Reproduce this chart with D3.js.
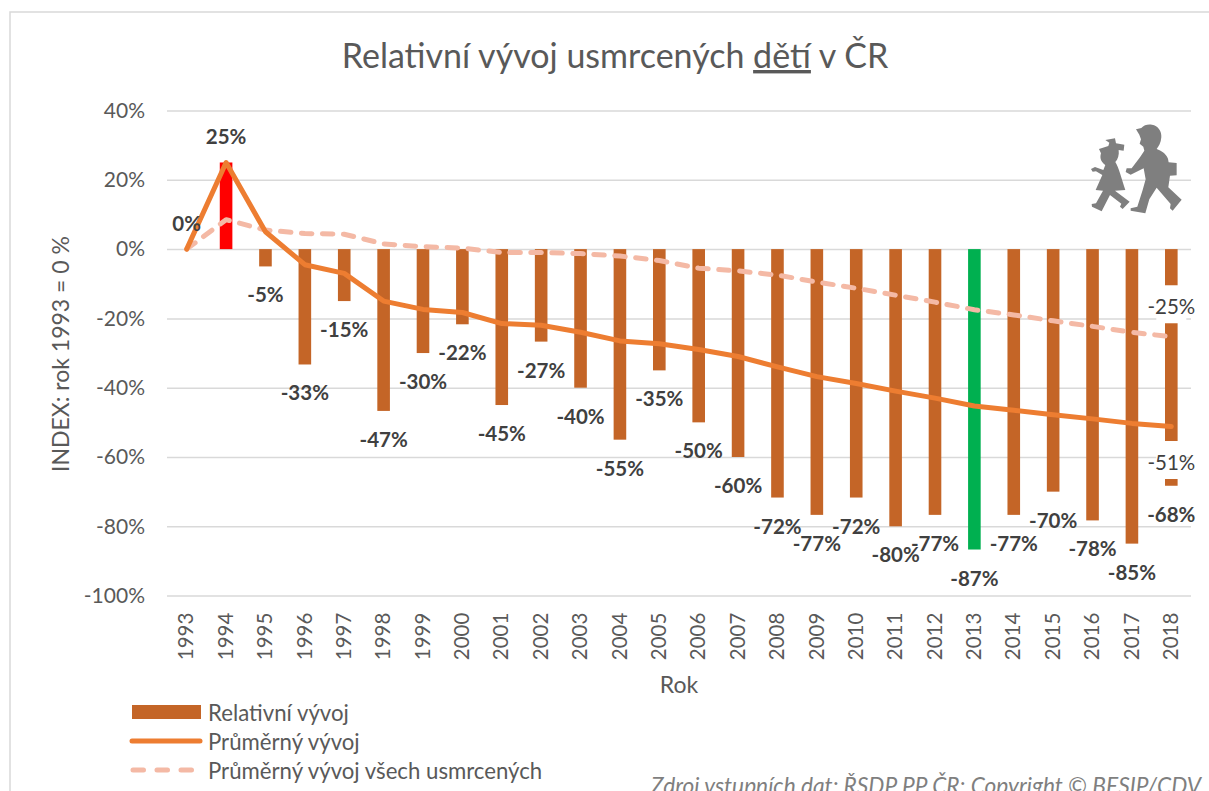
<!DOCTYPE html>
<html><head><meta charset="utf-8">
<script src="https://cdn.jsdelivr.net/npm/d3@7/dist/d3.min.js"></script>
<style>
html,body{margin:0;padding:0;background:#fff;overflow:hidden}
svg{display:block}
text{font-family:Lato,"Noto Sans",sans-serif}
</style></head><body>
<svg id="c" width="1209" height="791"></svg>
<script>
const years = d3.range(1993, 2019).map(String);
const relative = [null,25,-5,-33.3,-15,-46.7,-30,-21.7,-45,-26.7,-40,-55,-35,-50,-60,-71.7,-76.7,-71.7,-80,-76.7,-86.7,-76.7,-70,-78.3,-85,-68.3];
const average = [0,25,5,-4.5,-7,-15,-17.4,-18.3,-21.5,-22,-24,-26.5,-27.3,-29,-31,-34,-36.8,-38.8,-41,-43,-45.3,-46.5,-47.8,-49,-50.3,-51.2];
const averageAll = [0,8.5,5.5,4.5,4.3,1.5,0.7,0.3,-1,-1,-1.3,-2,-3.3,-5.5,-6.3,-7.5,-9.5,-11.3,-13.3,-15.3,-17.5,-19,-20.7,-22.3,-24,-25.3];
const yTicks = [40,20,0,-20,-40,-60,-80,-100];
const legendItems = ["Relativní vývoj","Průměrný vývoj","Průměrný vývoj všech usmrcených"];
const BROWN="#C46527", ORANGE="#ED7D31", PEACH="#F4B9A5", GRID="#D9D9D9", TXT="#595959", LBL="#404040";

const svg = d3.select("#c");
const x = d3.scaleBand().domain(years).range([167,1191]);
const y = d3.scaleLinear().domain([-100,40]).range([595.6,110.5]);
const cx = d => x(d)+x.bandwidth()/2;
const pct = v => d3.format(".0f")(v).replace("\u2212","-")+"%";

// frame
svg.append("rect").attr("x",10).attr("y",12).attr("width",1300).attr("height",900)
  .attr("fill","#fff").attr("stroke",GRID).attr("stroke-width",1.5);

// title
const t = svg.append("text").attr("x",615).attr("y",68).attr("text-anchor","middle")
  .attr("font-size",34).attr("fill",TXT);
t.append("tspan").text("Relativní vývoj usmrcených ");
t.append("tspan").attr("text-decoration","underline").text("dětí");
t.append("tspan").text(" v ČR");

// y axis
const gy = svg.append("g").attr("transform","translate(167,0)")
  .call(d3.axisLeft(y).tickValues(yTicks).tickFormat(d=>d+"%").tickSize(-1024).tickPadding(22));
gy.select(".domain").remove();
gy.selectAll("line").attr("stroke",GRID).attr("stroke-width",1.5);
gy.selectAll("text").attr("font-size",21).attr("fill",TXT).style("font-family","Lato");

// x axis
const gx = svg.append("g").attr("transform","translate(0,595.6)")
  .call(d3.axisBottom(x).tickSize(0));
gx.select(".domain").remove();
gx.selectAll("text").attr("font-size",20.5).attr("fill",TXT).style("font-family","Lato")
  .attr("text-anchor","end").attr("dy",0).attr("dominant-baseline","middle")
  .attr("transform",d=>`translate(1.5,17) rotate(-90)`).attr("y",0).attr("x",0);

// axis titles
svg.append("text").attr("x",679).attr("y",693).attr("text-anchor","middle").attr("font-size",23).attr("fill",TXT).text("Rok");
svg.append("text").attr("transform","translate(69,354) rotate(-90)").attr("text-anchor","middle").attr("font-size",23).attr("fill",TXT).text("INDEX: rok 1993 = 0 %");

// bars
const barW = 12.6;
const rows = years.map((yr,i)=>({yr,v:relative[i]}));
svg.append("g").selectAll("rect").data(rows.filter(d=>d.v!==null)).join("rect")
  .attr("x",d=>cx(d.yr)-barW/2).attr("width",barW)
  .attr("y",d=>Math.min(y(d.v),y(0))).attr("height",d=>Math.abs(y(d.v)-y(0)))
  .attr("fill",d=>d.yr==="1994"?"#FF0000":d.yr==="2013"?"#00B050":BROWN);

// lines
const line = d3.line().x((d,i)=>cx(years[i])).y(d=>y(d));
svg.append("path").datum(averageAll).attr("d",line).attr("fill","none").attr("stroke",PEACH)
  .attr("stroke-width",5).attr("stroke-linecap","round").attr("stroke-linejoin","round").attr("stroke-dasharray","10.5 10.5");
svg.append("path").datum(average).attr("d",line).attr("fill","none").attr("stroke",ORANGE)
  .attr("stroke-width",5).attr("stroke-linecap","round").attr("stroke-linejoin","round");

// bar labels
const lab = svg.append("g");
rows.forEach((d,i)=>{
  const v = d.v===null?0:d.v;
  lab.append("text").attr("x",cx(d.yr)).attr("y",v>=0?y(v)-26:y(v)+28)
    .attr("text-anchor","middle").attr("dominant-baseline","central")
    .attr("font-size",20.5).attr("font-weight",700).attr("fill",LBL).text(pct(v));
});

// end labels with white boxes
const last = years[years.length-1];
[[averageAll[25],-32],[average[25],34]].forEach(([v,off])=>{
  lab.append("rect").attr("x",cx(last)-15).attr("width",30).attr("y",y(v)+off-19.5).attr("height",38).attr("fill","#fff");
  lab.append("text").attr("x",cx(last)).attr("y",y(v)+off+1).attr("text-anchor","middle").attr("dominant-baseline","central")
    .attr("font-size",20.5).attr("fill",LBL).text(pct(v));
});

// pictogram
const pic = svg.append("g").attr("transform","translate(1000,100) scale(0.3333)").attr("fill","#7F7F7F");
pic.append("path").attr("d","M408 88 L424 84 C432 74 445 72 456 74 C474 77 486 94 484 112 C483 128 476 140 470 147 C484 152 498 160 504 176 L506 187 L530 189 L530 226 L510 227 L505 262 L545 299 L518 332 L510 325 L512 312 L470 263 L448 298 L436 340 L392 332 L392 325 L412 320 L428 270 L437 238 L431 205 L392 224 L377 216 L380 205 L395 205 L420 172 L433 152 L430 140 L419 131 L423 118 L418 104 Z");
pic.append("path").attr("d","M316 120 L345 115 L348 130 L373 134 L371 152 L356 150 C358 165 354 178 346 186 C356 200 366 240 376 270 L345 272 L389 305 L368 327 L360 320 L364 311 L330 285 L305 334 L276 320 L275 312 L288 310 L309 272 L287 270 L307 225 L288 214 L278 215 L273 207 L285 201 L310 210 L316 195 C305 188 298 176 303 160 L297 147 L325 138 L328 128 Z");

// legend
const lg = svg.append("g");
const lx = d3.scalePoint().domain(legendItems).range([712,770]);
lg.append("rect").attr("x",132).attr("width",69).attr("y",lx(legendItems[0])-7).attr("height",14).attr("fill",BROWN);
lg.append("line").attr("x1",132).attr("x2",200).attr("y1",lx(legendItems[1])).attr("y2",lx(legendItems[1]))
  .attr("stroke",ORANGE).attr("stroke-width",5).attr("stroke-linecap","round");
lg.append("line").attr("x1",133).attr("x2",200).attr("y1",lx(legendItems[2])).attr("y2",lx(legendItems[2]))
  .attr("stroke",PEACH).attr("stroke-width",5).attr("stroke-linecap","round").attr("stroke-dasharray","10.5 13.5");
lg.selectAll("text").data(legendItems).join("text").attr("x",208).attr("y",d=>lx(d)).attr("dominant-baseline","central")
  .attr("font-size",22.2).attr("fill",TXT).text(d=>d);

// source
svg.append("text").attr("x",1201).attr("y",794).attr("text-anchor","end").attr("font-size",22.7)
  .attr("font-style","italic").attr("fill","#7F7F7F").text("Zdroj vstupních dat: ŘSDP PP ČR; Copyright © BESIP/CDV");
</script>
</body></html>
